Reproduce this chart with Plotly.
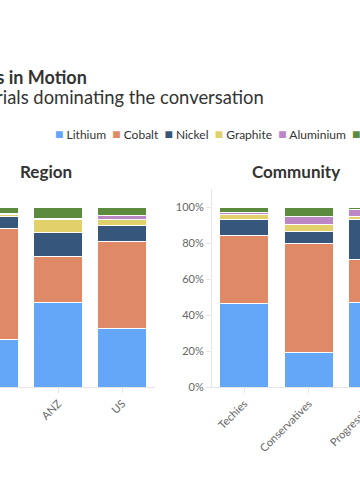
import plotly.graph_objects as go

# ---------------- data ----------------
series = ["Lithium", "Cobalt", "Nickel", "Graphite", "Aluminium", "Manganese"]
colors = ["#64A6F7", "#E08966", "#36567B", "#E2D16A", "#BD86C6", "#5D8B3D"]

region_cats = ["UK", "ANZ", "US"]
region_vals = {
    "Lithium":   [26.5, 47.2, 32.4],
    "Cobalt":    [61.5, 25.4, 48.7],
    "Nickel":    [7.0, 13.5, 8.9],
    "Graphite":  [0.8, 6.9, 3.1],
    "Aluminium": [0.5, 0.8, 2.2],
    "Manganese": [3.7, 6.2, 4.7],
}

community_cats = ["Techies", "Conservatives", "Progressives"]
community_vals = {
    "Lithium":   [46.3, 19.3, 46.9],
    "Cobalt":    [37.6, 60.6, 24.0],
    "Nickel":    [9.1, 6.5, 22.2],
    "Graphite":  [2.8, 4.0, 1.9],
    "Aluminium": [1.2, 4.1, 3.7],
    "Manganese": [3.0, 5.5, 1.3],
}

title_text = "Minerals in Motion"
subtitle_text = "Key materials dominating the conversation"

# ---------------- layout geometry ----------------
W, H = 420, 500
T, B = 188.7, 113.3
PH = H - T - B


def px(x):
    return x / W


def py(y):
    return (H - B - y) / PH


FONT = "Lato, 'Open Sans', sans-serif"
TXT = "#333333"

fig = go.Figure()

for name, col in zip(series, colors):
    fig.add_trace(go.Bar(
        x=region_cats, y=[v / 100 for v in region_vals[name]], name=name,
        marker=dict(color=col, line=dict(color="white", width=1)),
        xaxis="x", yaxis="y", showlegend=False,
    ))
    fig.add_trace(go.Bar(
        x=community_cats, y=[v / 100 for v in community_vals[name]], name=name,
        marker=dict(color=col, line=dict(color="white", width=1)),
        xaxis="x2", yaxis="y2", showlegend=False,
    ))

axis_common = dict(
    showgrid=False, zeroline=False, showline=True, linecolor="#E6E6E6", linewidth=1,
    ticks="outside", ticklen=5, tickcolor="#E6E6E6",
    tickfont=dict(family=FONT, size=11, color="#666666"),
)

fig.update_layout(
    width=W, height=H,
    margin=dict(l=0, r=0, t=T, b=B, autoexpand=False),
    paper_bgcolor="white", plot_bgcolor="white",
    barmode="stack", bargap=0.24,
    font=dict(family=FONT, color=TXT),
    xaxis=dict(domain=[0, px(154.5)], range=[0.094, 2.5], type="category",
               tickangle=-45, **axis_common),
    yaxis=dict(domain=[0, 1], range=[0, 1.1], visible=False),
    xaxis2=dict(domain=[px(212), px(405.5)], range=[-0.5, 2.5], type="category",
                tickangle=-45, anchor="y2", **axis_common),
    yaxis2=dict(domain=[0, 1], range=[0, 1.1], anchor="x2", tickformat=".0%",
                dtick=0.2, **axis_common),
)

legend_parts = []
for name, col in zip(series, colors):
    legend_parts.append(
        f'<span style="color:{col};font-size:14px">■</span>\u00a0{name}')
legend_text = "\u00a0\u00a0".join(legend_parts)

anns = [
    dict(text=f"<b>{title_text}</b>", x=px(88.5), y=py(77), xanchor="right",
         yanchor="middle", font=dict(size=18, color=TXT)),
    dict(text=subtitle_text, x=px(266), y=py(97), xanchor="right",
         yanchor="middle", font=dict(size=18.4, color=TXT)),
    dict(text=legend_text, x=px(53), y=py(133), xanchor="left",
         yanchor="middle", font=dict(size=12, color=TXT)),
    dict(text="<b>Region</b>", x=px(46), y=py(171), xanchor="center",
         yanchor="middle", font=dict(size=17, color=TXT)),
    dict(text="<b>Community</b>", x=px(296), y=py(171), xanchor="center",
         yanchor="middle", font=dict(size=17, color=TXT)),
]
for a in anns:
    a.update(xref="paper", yref="paper", showarrow=False)
fig.update_layout(annotations=anns)

fig.write_html(
    "out.html",
    config={"displayModeBar": False},
    post_script="document.body.style.margin='0';document.body.style.overflow='hidden';",
)
